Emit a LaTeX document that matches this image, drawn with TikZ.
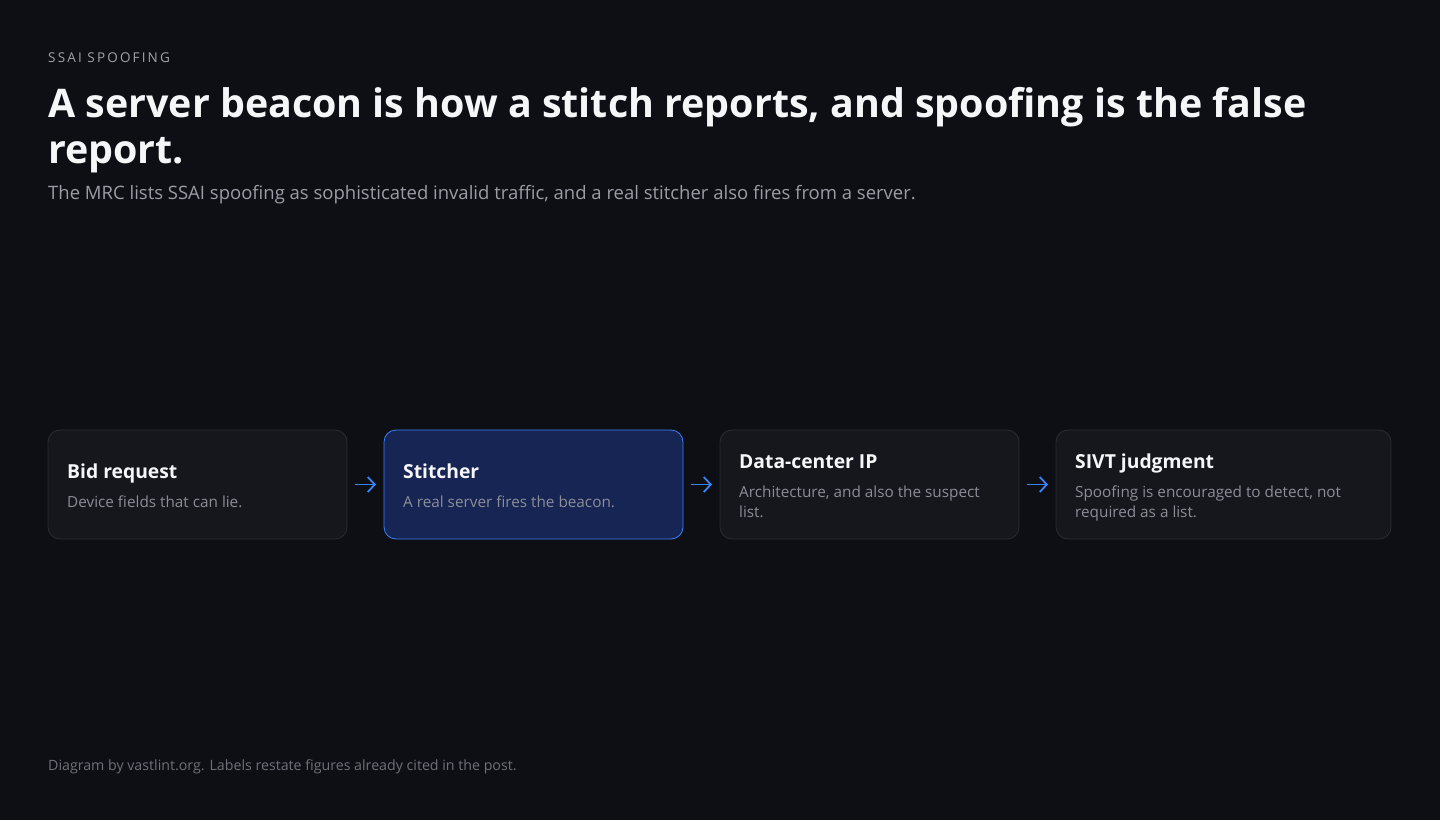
\documentclass[tikz,border=0pt]{standalone}
\usepackage{fontspec}
\setmainfont{Open Sans}
\usepackage{tikz}
\usetikzlibrary{arrows.meta, positioning}
\definecolor{bgdark}{HTML}{0D0F14}
\definecolor{cardfill}{HTML}{15171D}
\definecolor{cardline}{HTML}{2A2D35}
\definecolor{hotfill}{HTML}{172554}
\definecolor{hotline}{HTML}{3B82F6}
\definecolor{titlewhite}{HTML}{F5F6F8}
\definecolor{eyebrowgray}{HTML}{A0A3AB}
\definecolor{subgray}{HTML}{9A9DA5}
\definecolor{descgray}{HTML}{8B8E97}
\definecolor{footgray}{HTML}{6E717A}

\begin{document}
\begin{tikzpicture}[x=1pt,y=-1pt,
    card/.style={draw=cardline,fill=cardfill,rounded corners=12pt,line width=0.8pt,
      anchor=north west,minimum height=109pt,inner sep=0pt,outer sep=0pt},
    hotcard/.style={card,draw=hotline,fill=hotfill},
    cardhead/.style={anchor=base west,inner sep=0pt,text=titlewhite,font=\bfseries\fontsize{19.3}{23}\selectfont},
    carddesc/.style={anchor=base west,inner sep=0pt,text=descgray,align=left,font=\fontsize{15.3}{20}\selectfont},
    flow/.style={-{Straight Barb[length=7pt,width=15pt]},hotline,line width=1.8pt,shorten <=8pt,shorten >=8pt}]
    % Background
    \fill[bgdark] (0,0) rectangle (1440,820);
    \useasboundingbox (0,0) rectangle (1440,820);

    % Header
    \node[anchor=base west,inner sep=0pt,text=eyebrowgray,font=\fontsize{13.5}{15}\selectfont\addfontfeature{LetterSpace=16}] (eyebrow) at (48,62) {SSAI SPOOFING};
    \node[anchor=base west,inner sep=0pt,text=titlewhite,align=left,font=\bfseries\fontsize{39.4}{46}\selectfont] (headline) at (48,163)
      {A server beacon is how a stitch reports, and spoofing is the false\\report.};
    \node[anchor=base west,inner sep=0pt,text=subgray,font=\fontsize{18.5}{22}\selectfont] (subline) at (48,199)
      {The MRC lists SSAI spoofing as sophisticated invalid traffic, and a real stitcher also fires from a server.};

    % Cards
    \node[card,minimum width=299pt] (bid) at (48,430) {};
    \node[hotcard,minimum width=299pt,right=37pt of bid.north east,anchor=north west] (stitch) {};
    \node[card,minimum width=299pt,right=37pt of stitch.north east,anchor=north west] (dcip) {};
    \node[card,minimum width=335pt,right=37pt of dcip.north east,anchor=north west] (sivt) {};

    % Card texts
    \node[cardhead] (bidhead) at ([shift={(19,48)}]bid.north west) {Bid request};
    \node[carddesc] (biddesc) at ([shift={(19,77)}]bid.north west) {Device fields that can lie.};
    \node[cardhead] (stitchhead) at ([shift={(19,48)}]stitch.north west) {Stitcher};
    \node[carddesc] (stitchdesc) at ([shift={(19,77)}]stitch.north west) {A real server fires the beacon.};
    \node[cardhead] (dciphead) at ([shift={(19,38)}]dcip.north west) {Data-center IP};
    \node[carddesc] (dcipdesc) at ([shift={(19,87)}]dcip.north west) {Architecture, and also the suspect\\list.};
    \node[cardhead] (sivthead) at ([shift={(19,38)}]sivt.north west) {SIVT judgment};
    \node[carddesc] (sivtdesc) at ([shift={(19,87)}]sivt.north west) {Spoofing is encouraged to detect, not\\required as a list.};

    % Arrows
    \draw[flow] (bid.east) -- (stitch.west);
    \draw[flow] (stitch.east) -- (dcip.west);
    \draw[flow] (dcip.east) -- (sivt.west);

    % Footer
    \node[anchor=base west,inner sep=0pt,text=footgray,font=\fontsize{14.2}{16}\selectfont] (credit) at (48,770)
      {Diagram by vastlint.org. Labels restate figures already cited in the post.};
\end{tikzpicture}
\end{document}
